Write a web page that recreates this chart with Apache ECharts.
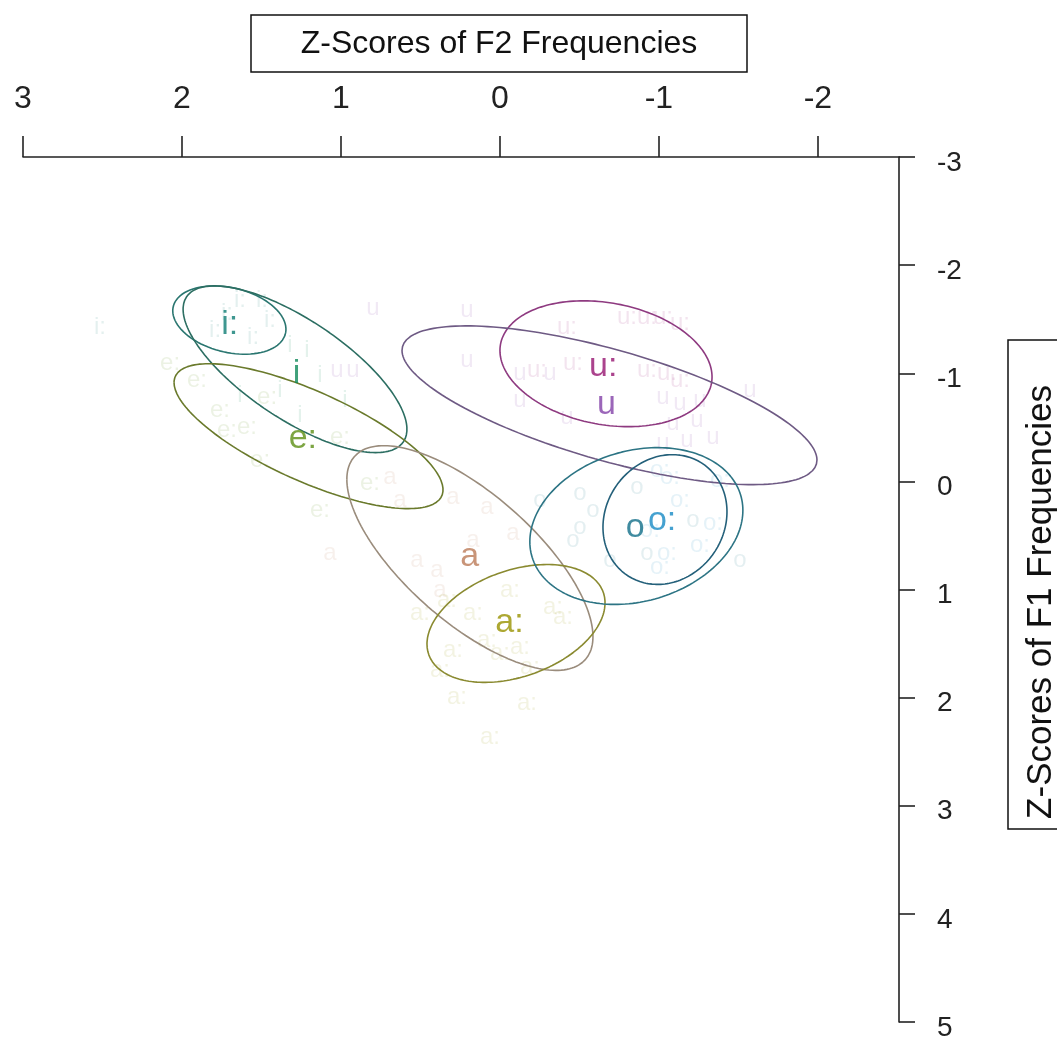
<!DOCTYPE html>
<html>
<head>
<meta charset="utf-8">
<script src="https://cdn.jsdelivr.net/npm/echarts@6/dist/echarts.min.js"></script>
<style>
  html, body { margin: 0; padding: 0; background: #fff; }
  #chart { width: 1057px; height: 1043px; }
</style>
</head>
<body>
<div id="chart"></div>
<script>
// Vowel categories (order of drawing)
const vowels = ['i:', 'i', 'e:', 'a', 'a:', 'u:', 'u', 'o', 'o:'];

// Mean z-scores per vowel (F2 on x, F1 on y)
const meanF2 = [1.70, 1.28, 1.24, 0.19, -0.06, -0.65, -0.67, -0.85, -1.02];
const meanF1 = [-1.45, -1.00, -0.40, 0.70, 1.31, -1.06, -0.71, 0.43, 0.36];

// Ellipse parameters per vowel: half x-extent, half y-extent, x/y correlation
const ellCenterF2 = [1.702, 1.289, 1.204, 0.189, -0.101, -0.667, -0.689, -0.858, -1.038];
const ellCenterF1 = [-1.492, -1.037, -0.418, 0.709, 1.314, -1.088, -0.704, 0.413, 0.353];
const ellHalfF2 = [0.356, 0.704, 0.846, 0.774, 0.560, 0.667, 1.305, 0.670, 0.390];
const ellHalfF1 = [0.316, 0.771, 0.670, 1.039, 0.545, 0.582, 0.734, 0.725, 0.600];
const ellRho = [-0.27, -0.72, -0.74, -0.70, 0.35, -0.21, -0.69, 0.20, 0.12];

// Individual tokens per vowel
const tokF2 = {
  'i:': [1.717, 1.553, 1.635, 1.497, 1.792, 2.516, 1.447],
  'i':  [1.214, 1.321, 1.132, 1.384, 0.975, 1.635, 1.258],
  'e:': [2.075, 1.906, 1.761, 1.591, 1.717, 1.465, 1.006, 1.132, 1.509, 0.818],
  'a':  [0.692, 1.069, 0.522, 0.170, -0.082, 0.296, 0.082, 0.377, 0.629, 0.396],
  'a:': [0.503, 0.333, 0.170, 0.082, 0.000, -0.126, -0.189, -0.333, -0.396, 0.270, -0.170, 0.063, 0.296, 0.377, -0.063],
  'u:': [-0.421, -0.799, -0.925, -1.025, -1.132, -0.459, -0.925, -1.050, -1.132, -0.233],
  'u':  [0.799, 0.208, 1.025, 0.925, 0.208, -0.126, -0.314, -0.126, -0.421, -1.025, -1.132, -1.258, -1.088, -1.239, -1.025, -1.176, -1.340, -1.572],
  'o':  [-0.503, -0.585, -0.503, -0.459, -0.862, -1.214, -0.925, -0.252, -0.692, -1.509],
  'o:': [-1.006, -1.069, -1.340, -1.050, -1.006, -1.132, -0.943, -1.258, -1.384]
};
const tokF1 = {
  'i:': [-1.550, -1.328, -1.670, -1.670, -1.393, -1.420, -1.485],
  'i':  [-1.208, -1.254, -0.977, -0.838, -0.746, -0.792, -0.607],
  'e:': [-1.088, -0.931, -0.654, -0.497, -0.469, -0.774, -0.404, 0.270, -0.192, 0.021],
  'a':  [-0.035, 0.667, 0.732, 0.547, 0.483, 0.150, 0.242, 1.009, 0.178, 0.824],
  'a:': [1.222, 1.102, 1.222, 1.471, 1.591, 1.536, 1.720, 1.166, 1.259, 1.997, 2.053, 2.367, 1.564, 1.748, 1.009],
  'u:': [-1.420, -1.513, -1.513, -1.513, -1.457, -1.088, -1.023, -0.995, -0.930, -1.023],
  'u':  [-1.596, -1.577, -1.023, -1.023, -1.120, -0.999, -0.999, -0.746, -0.589, -0.774, -0.718, -0.746, -0.534, -0.561, -0.349, -0.377, -0.404, -0.838],
  'o':  [0.113, 0.270, 0.427, 0.547, 0.058, 0.363, 0.667, 0.178, 0.732, 0.732],
  'o:': [-0.099, -0.035, 0.390, 0.667, 0.797, 0.178, 0.455, 0.593, -0.007]
};

// Axis tick labels
const f2Ticks = [3, 2, 1, 0, -1, -2];

// Colours
const labelColors = ['#0f7d74', '#108a5a', '#5c8e14', '#bc7a58', '#989200', '#961470', '#8240a8', '#106e88', '#168ac4'];
const ellipseColors = ['#2a7670', '#2c6e62', '#6a7a2c', '#9a8c7c', '#8a8a30', '#8e3a80', '#6e5a84', '#2c7484', '#24607a'];

const FONT = '"Liberation Sans", Arial, sans-serif';

// Ellipse outline in data space: x = cx + a cos t, y = cy + b cos(t - d), cos d = rho
function ellipsePoints(k) {
  const pts = [];
  const d = Math.acos(ellRho[k]);
  const n = 180;
  for (let s = 0; s <= n; s++) {
    const t = 2 * Math.PI * s / n;
    pts.push([ellCenterF2[k] + ellHalfF2[k] * Math.cos(t),
              ellCenterF1[k] + ellHalfF1[k] * Math.cos(t - d)]);
  }
  return pts;
}

function hexToRgba(hex, a) {
  const v = parseInt(hex.slice(1), 16);
  return 'rgba(' + ((v >> 16) & 255) + ',' + ((v >> 8) & 255) + ',' + (v & 255) + ',' + a + ')';
}

const series = [];

// faint tokens
vowels.forEach((v, k) => {
  series.push({
    type: 'scatter',
    silent: true,
    symbolSize: 1,
    itemStyle: { color: 'rgba(0,0,0,0)' },
    data: tokF2[v].map((x, j) => [x, tokF1[v][j]]),
    label: {
      show: true, position: 'inside', formatter: v,
      fontFamily: FONT, fontSize: 24,
      color: hexToRgba(labelColors[k], 0.14)
    },
    z: 1
  });
});

// ellipses
vowels.forEach((v, k) => {
  series.push({
    type: 'line',
    silent: true,
    showSymbol: false,
    symbol: 'none',
    data: ellipsePoints(k),
    lineStyle: { color: ellipseColors[k], width: 1.6 },
    z: 3
  });
});

// vowel means
series.push({
  type: 'scatter',
  silent: true,
  symbolSize: 1,
  itemStyle: { color: 'rgba(0,0,0,0)' },
  data: vowels.map((v, k) => ({ value: [meanF2[k], meanF1[k]], name: v,
    label: { color: labelColors[k] } })),
  label: {
    show: true, position: 'inside', formatter: p => p.name,
    fontFamily: FONT, fontSize: 34
  },
  z: 5
});

const chart = echarts.init(document.getElementById('chart'), null, { renderer: 'canvas' });
chart.setOption({
  animation: false,
  backgroundColor: '#fff',
  grid: { left: 23, right: 158, top: 157, bottom: 21 },
  xAxis: {
    type: 'value', position: 'top', inverse: true,
    min: -2.51, max: 3,
    axisLine: { show: true, onZero: false, lineStyle: { color: '#222', width: 1.6 } },
    axisTick: { show: true, length: 21, customValues: f2Ticks, lineStyle: { color: '#222', width: 1.6 } },
    axisLabel: { customValues: f2Ticks, margin: 42, fontSize: 32, fontFamily: FONT, color: '#222' },
    splitLine: { show: false }
  },
  yAxis: {
    type: 'value', position: 'right', inverse: true,
    min: -3, max: 5, interval: 1,
    axisLine: { show: true, onZero: false, lineStyle: { color: '#222', width: 1.6 } },
    axisTick: { show: true, length: 16, lineStyle: { color: '#222', width: 1.6 } },
    axisLabel: { margin: 38, fontSize: 28, fontFamily: FONT, color: '#222', align: 'left',
                 verticalAlign: 'top', lineHeight: 12 },
    splitLine: { show: false }
  },
  graphic: [
    { type: 'rect', shape: { x: 251, y: 15, width: 496, height: 57 },
      style: { fill: '#fff', stroke: '#111', lineWidth: 1.5 }, z: 10 },
    { type: 'text', x: 499, y: 44, z: 11,
      style: { text: 'Z-Scores of F2 Frequencies', fontFamily: FONT, fontSize: 32,
               fill: '#111', align: 'center', verticalAlign: 'middle' } },
    { type: 'rect', shape: { x: 1008, y: 340, width: 70, height: 489 },
      style: { fill: '#fff', stroke: '#111', lineWidth: 1.5 }, z: 10 },
    { type: 'text', x: 1041, y: 602, rotation: Math.PI / 2, z: 11,
      style: { text: 'Z-Scores of F1 Frequencies', fontFamily: FONT, fontSize: 35,
               fill: '#111', align: 'center', verticalAlign: 'middle' } }
  ],
  series: series
});
</script>
</body>
</html>
